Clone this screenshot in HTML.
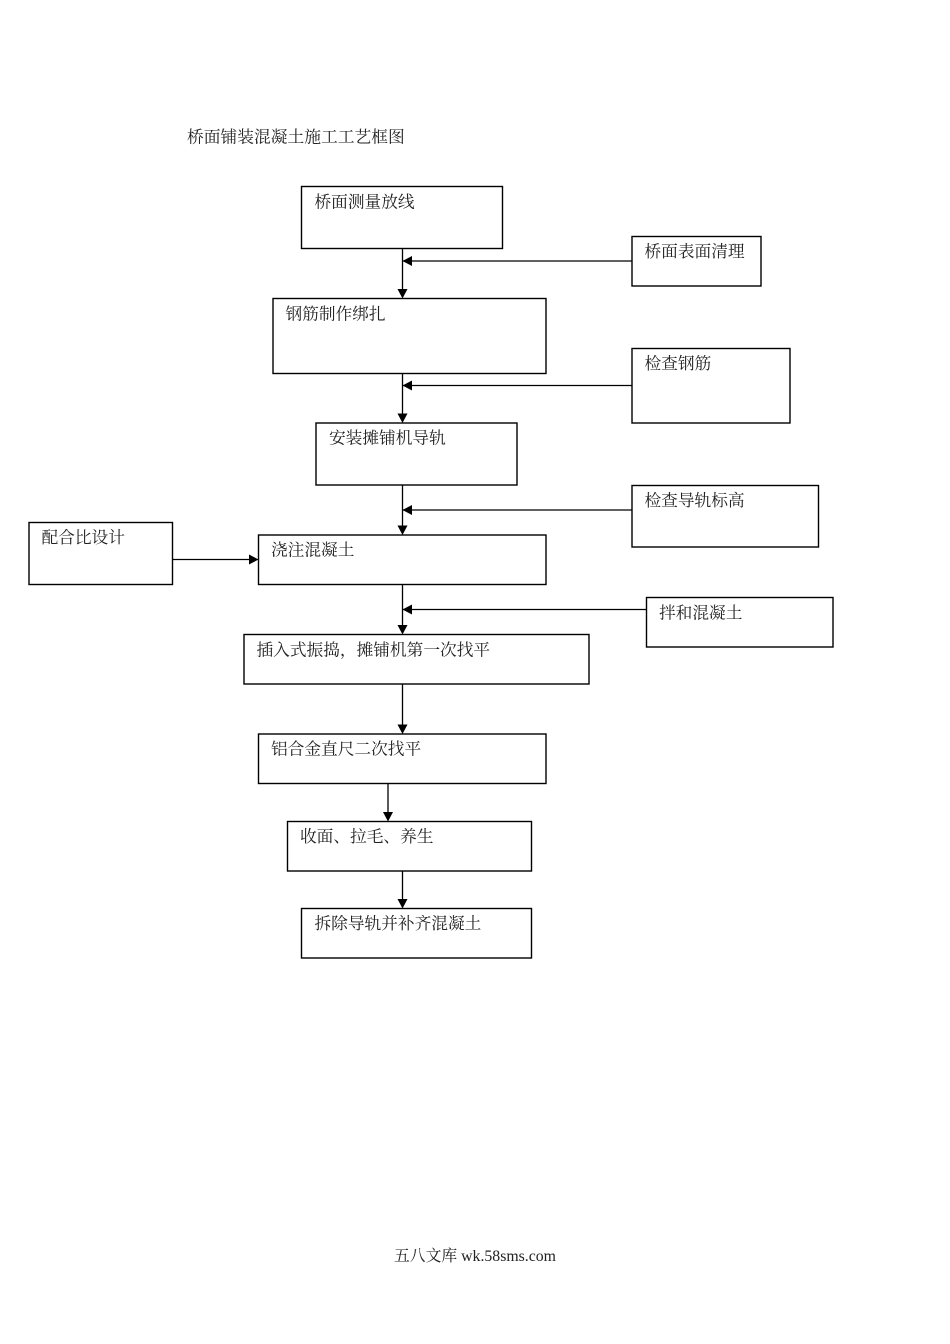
<!DOCTYPE html>
<html>
<head>
<meta charset="utf-8">
<style>
html,body{margin:0;padding:0;background:#fff;}
svg{display:block;}
text{font-family:"Liberation Serif","Noto Serif CJK SC",serif;font-size:16.7px;fill:#222;}
rect{fill:#fff;stroke:#000;stroke-width:1.4;}
line{stroke:#000;stroke-width:1.3;}
polygon{fill:#000;}
</style>
</head>
<body>
<svg width="950" height="1344" viewBox="0 0 950 1344" xmlns="http://www.w3.org/2000/svg">
<rect x="0" y="0" width="950" height="1344" style="fill:#fff;stroke:none"/>
<text x="187" y="142.500" style="font-size:16.75px">桥面铺装混凝土施工工艺框图</text>

<rect x="301.500" y="186.500" width="201" height="62"/>
<rect x="632" y="236.500" width="129" height="49.500"/>
<rect x="273" y="298.500" width="273" height="75"/>
<rect x="632" y="348.500" width="158" height="74.500"/>
<rect x="316" y="423" width="201" height="62"/>
<rect x="632" y="485.500" width="186.500" height="61.500"/>
<rect x="29" y="522.500" width="143.500" height="62"/>
<rect x="258.500" y="535" width="287.500" height="49.500"/>
<rect x="646.500" y="597.500" width="186.500" height="49.500"/>
<rect x="244" y="634.500" width="345" height="49.500"/>
<rect x="258.500" y="734" width="287.500" height="49.500"/>
<rect x="287.500" y="821.500" width="244" height="49.500"/>
<rect x="301.500" y="908.500" width="230" height="49.500"/>

<text x="314.500" y="207.500">桥面测量放线</text>
<text x="644.500" y="257">桥面表面清理</text>
<text x="285.500" y="319.500">钢筋制作绑扎</text>
<text x="644.500" y="369">检查钢筋</text>
<text x="329" y="443.500">安装摊铺机导轨</text>
<text x="644.500" y="506">检查导轨标高</text>
<text x="41.500" y="543">配合比设计</text>
<text x="271" y="555.500">浇注混凝土</text>
<text x="659" y="618.500">拌和混凝土</text>
<text x="256.500" y="655.500">插入式振捣，摊铺机第一次找平</text>
<text x="271" y="754.500">铝合金直尺二次找平</text>
<text x="300" y="842">收面、拉毛、养生</text>
<text x="314.500" y="929">拆除导轨并补齐混凝土</text>

<line x1="402.500" y1="249" x2="402.500" y2="290"/>
<polygon points="397.500,289 407.500,289 402.500,298.500"/>
<line x1="402.500" y1="261" x2="632" y2="261"/>
<polygon points="412,256 412,266 402.500,261"/>

<line x1="402.500" y1="374" x2="402.500" y2="415"/>
<polygon points="397.500,413.500 407.500,413.500 402.500,423"/>
<line x1="402.500" y1="385.500" x2="632" y2="385.500"/>
<polygon points="412,380.500 412,390.500 402.500,385.500"/>

<line x1="402.500" y1="485.500" x2="402.500" y2="527"/>
<polygon points="397.500,525.500 407.500,525.500 402.500,535"/>
<line x1="402.500" y1="510" x2="632" y2="510"/>
<polygon points="412,505 412,515 402.500,510"/>

<line x1="172.500" y1="559.500" x2="250" y2="559.500"/>
<polygon points="249,554.500 249,564.500 258.500,559.500"/>

<line x1="402.500" y1="585" x2="402.500" y2="626"/>
<polygon points="397.500,625 407.500,625 402.500,634.500"/>
<line x1="402.500" y1="609.500" x2="646.500" y2="609.500"/>
<polygon points="412,604.500 412,614.500 402.500,609.500"/>

<line x1="402.500" y1="684.500" x2="402.500" y2="726"/>
<polygon points="397.500,724.500 407.500,724.500 402.500,734"/>

<line x1="388" y1="784" x2="388" y2="813"/>
<polygon points="383,812 393,812 388,821.500"/>

<line x1="402.500" y1="871.500" x2="402.500" y2="900"/>
<polygon points="397.500,899 407.500,899 402.500,908.500"/>

<text x="394" y="1261" style="font-size:15.8px">五八文库 wk.58sms.com</text>
</svg>
</body>
</html>
